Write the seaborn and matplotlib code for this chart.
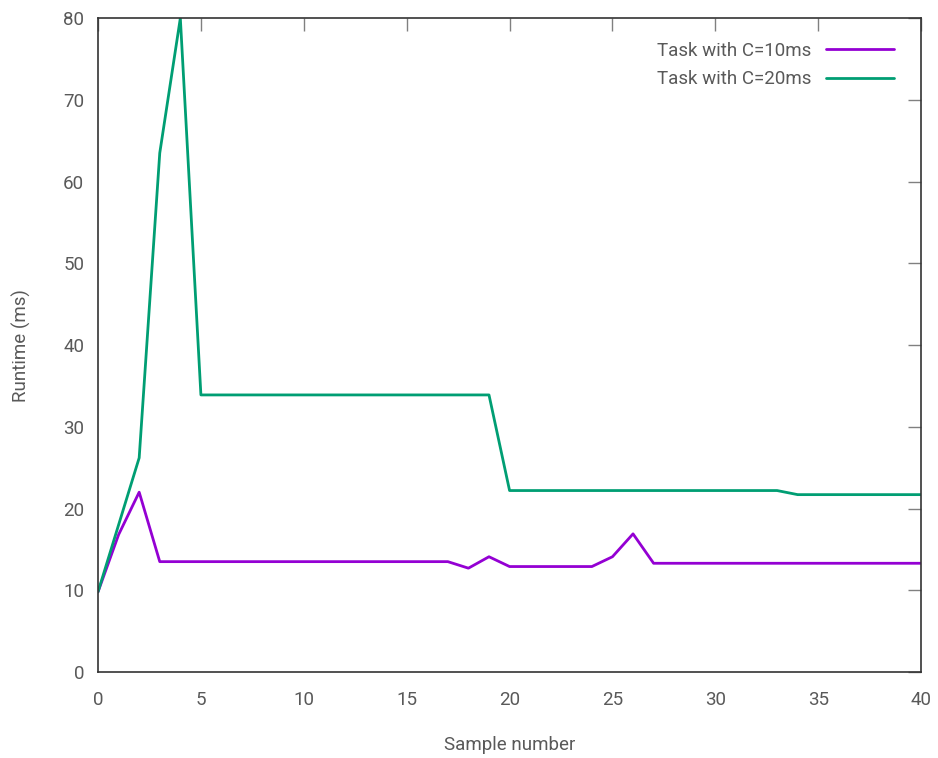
import pandas as pd
import seaborn as sns
import matplotlib
matplotlib.use("Agg")
import matplotlib.pyplot as plt

# ----------- Data ----------------------------------------

samples = list(range(41))

runtime_c10 = [9.8, 16.8, 22.0, 13.5, 13.5, 13.5, 13.5, 13.5, 13.5, 13.5,
               13.5, 13.5, 13.5, 13.5, 13.5, 13.5, 13.5, 13.5, 12.7, 14.1,
               12.9, 12.9, 12.9, 12.9, 12.9, 14.1, 16.9, 13.3, 13.3, 13.3,
               13.3, 13.3, 13.3, 13.3, 13.3, 13.3, 13.3, 13.3, 13.3, 13.3,
               13.3]

runtime_c20 = [9.8, 18.0, 26.2, 63.5, 80.0, 33.9, 33.9, 33.9, 33.9, 33.9,
               33.9, 33.9, 33.9, 33.9, 33.9, 33.9, 33.9, 33.9, 33.9, 33.9,
               22.2, 22.2, 22.2, 22.2, 22.2, 22.2, 22.2, 22.2, 22.2, 22.2,
               22.2, 22.2, 22.2, 22.2, 21.7, 21.7, 21.7, 21.7, 21.7, 21.7,
               21.7]

series_names = ["Task with C=10ms", "Task with C=20ms"]
series_colors = ["#9400d3", "#009e73"]

df = pd.DataFrame({
    "sample": samples * 2,
    "runtime": runtime_c10 + runtime_c20,
    "task": [series_names[0]] * len(samples) + [series_names[1]] * len(samples),
})

# ----------- Style (gnuplot look) ---------------------

sns.set_theme(style="white")
plt.rcParams["font.family"] = ["Roboto", "DejaVu Sans"]
text_grey = "#595959"
fsize = 13.5

fig = plt.figure(figsize=(9.38, 7.58), dpi=100)
ax = fig.add_axes([0.1045, 0.1135, 0.8775, 0.8625])

sns.lineplot(data=df, x="sample", y="runtime", hue="task",
             palette=dict(zip(series_names, series_colors)),
             linewidth=2, ax=ax, clip_on=True)

ax.set_xlim(0, 40)
ax.set_ylim(0, 80)
ax.set_xticks(range(0, 41, 5))
ax.set_yticks(range(0, 81, 10))

ax.tick_params(direction="in", length=9.5, width=1, color="#808080",
               top=True, right=True, labelsize=fsize, labelcolor=text_grey)
ax.tick_params(axis="x", pad=14)
ax.tick_params(axis="y", pad=10)
for side in ax.spines.values():
    side.set_color("#333333")
    side.set_linewidth(1.2)

ax.set_xlabel("Sample number", fontsize=fsize, color=text_grey, labelpad=19)
ax.set_ylabel("Runtime (ms)", fontsize=fsize, color=text_grey, labelpad=23)

leg = ax.legend(loc="upper right", frameon=False, markerfirst=False,
                fontsize=fsize, handlelength=3.6, handletextpad=0.8,
                borderaxespad=0.0, labelspacing=0.55,
                bbox_to_anchor=(0.976, 0.975))
for t in leg.get_texts():
    t.set_color(text_grey)

fig.savefig("out.png", dpi=100)
